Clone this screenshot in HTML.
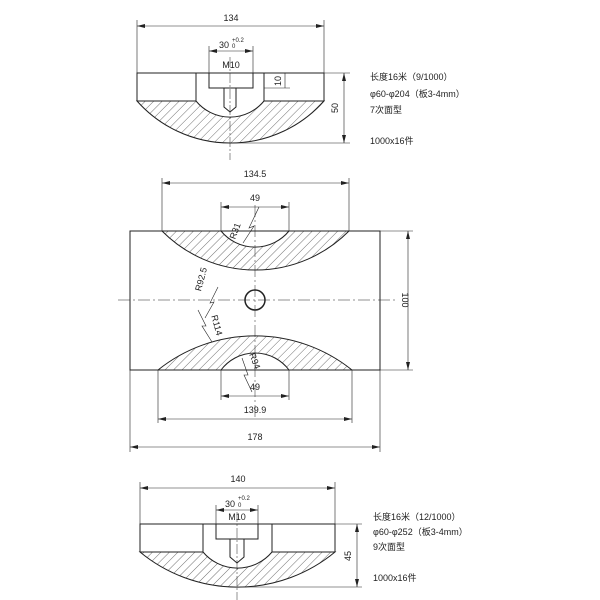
<!DOCTYPE html>
<html><head><meta charset="utf-8"><style>
html,body{margin:0;padding:0;background:#fff;}
svg{display:block;}
text{font-family:"Liberation Sans","Noto Sans CJK SC",sans-serif;fill:#222;}
.t{font-size:9px;}
</style></head><body>
<svg width="600" height="600" viewBox="0 0 600 600" xmlns="http://www.w3.org/2000/svg">
<defs>
<pattern id="h" width="6" height="6" patternUnits="userSpaceOnUse" patternTransform="rotate(45)">
<line x1="0" y1="0" x2="0" y2="6" stroke="#333" stroke-width="0.7"/>
</pattern>
<marker id="a" markerWidth="8" markerHeight="6" refX="8" refY="3" orient="auto-start-reverse" markerUnits="userSpaceOnUse">
<path d="M0,1 L8,3 L0,5 Z" fill="#222"/></marker>
</defs>
<g stroke="#222" fill="none" stroke-width="1">
<!-- TOP VIEW -->
<path d="M137,101 A125,125 0 0 0 324,101 L264,101 A44,44 0 0 1 196,101 Z" fill="url(#h)"/>
<path d="M137,101 L137,73 L324,73 L324,101"/>
<path d="M196,73 L196,101 M264,73 L264,101"/>
<path d="M209,73 L209,88 L253,88 L253,73"/>
<path d="M224,88 L224,107 L230,112 L236,107 L236,88"/>
<line x1="137" y1="20" x2="137" y2="73" stroke-width="0.6"/>
<line x1="324" y1="20" x2="324" y2="73" stroke-width="0.6"/>
<line x1="137" y1="26" x2="324" y2="26" stroke-width="0.6" marker-start="url(#a)" marker-end="url(#a)"/>
<line x1="209" y1="46" x2="209" y2="73" stroke-width="0.6"/>
<line x1="253" y1="46" x2="253" y2="73" stroke-width="0.6"/>
<line x1="209" y1="51" x2="253" y2="51" stroke-width="0.6" marker-start="url(#a)" marker-end="url(#a)"/>
<line x1="230" y1="57" x2="230" y2="160" stroke-width="0.5" stroke-dasharray="10,2,2,2"/>
<line x1="264" y1="88" x2="290" y2="88" stroke-width="0.6"/>
<line x1="285" y1="73" x2="285" y2="88" stroke-width="0.6"/>
<line x1="324" y1="73" x2="350" y2="73" stroke-width="0.6"/>
<line x1="232" y1="143" x2="350" y2="143" stroke-width="0.6"/>
<line x1="344" y1="73" x2="344" y2="143" stroke-width="0.6" marker-start="url(#a)" marker-end="url(#a)"/>

<!-- MIDDLE VIEW -->
<rect x="130" y="231" width="250" height="139"/>
<path d="M162,231 A131.6,131.6 0 0 0 349,231 L289,231 A44,44 0 0 1 221,231 Z" fill="url(#h)"/>
<path d="M158,370 A155,155 0 0 1 352,370 L289,370 A42.5,42.5 0 0 0 221,370 Z" fill="url(#h)"/>
<circle cx="255" cy="300" r="10" stroke-width="1.5"/>
<line x1="118" y1="300" x2="395" y2="300" stroke-width="0.5" stroke-dasharray="12,3,2,3"/>
<line x1="255" y1="205" x2="255" y2="420" stroke-width="0.5" stroke-dasharray="12,3,2,3"/>
<line x1="162" y1="178" x2="162" y2="231" stroke-width="0.6"/>
<line x1="349" y1="178" x2="349" y2="231" stroke-width="0.6"/>
<line x1="162" y1="183" x2="349" y2="183" stroke-width="0.6" marker-start="url(#a)" marker-end="url(#a)"/>
<line x1="221" y1="202" x2="221" y2="231" stroke-width="0.6"/>
<line x1="289" y1="202" x2="289" y2="231" stroke-width="0.6"/>
<line x1="221" y1="207" x2="289" y2="207" stroke-width="0.6" marker-start="url(#a)" marker-end="url(#a)"/>
<line x1="221" y1="370" x2="221" y2="400" stroke-width="0.6"/>
<line x1="289" y1="370" x2="289" y2="400" stroke-width="0.6"/>
<line x1="221" y1="396" x2="289" y2="396" stroke-width="0.6" marker-start="url(#a)" marker-end="url(#a)"/>
<line x1="158" y1="370" x2="158" y2="423" stroke-width="0.6"/>
<line x1="352" y1="370" x2="352" y2="423" stroke-width="0.6"/>
<line x1="158" y1="419" x2="352" y2="419" stroke-width="0.6" marker-start="url(#a)" marker-end="url(#a)"/>
<line x1="130" y1="370" x2="130" y2="452" stroke-width="0.6"/>
<line x1="380" y1="370" x2="380" y2="452" stroke-width="0.6"/>
<line x1="130" y1="447" x2="380" y2="447" stroke-width="0.6" marker-start="url(#a)" marker-end="url(#a)"/>
<line x1="380" y1="231" x2="413" y2="231" stroke-width="0.6"/>
<line x1="380" y1="370" x2="413" y2="370" stroke-width="0.6"/>
<line x1="408" y1="231" x2="408" y2="370" stroke-width="0.6" marker-start="url(#a)" marker-end="url(#a)"/>
<!-- leaders -->
<path d="M259,207 L249,228 L254,226 L243,243" stroke-width="0.6"/>
<path d="M218,287 L210,303 L214,302 L205,318" stroke-width="0.6"/>
<path d="M198,310 L206,326 L202,326 L212,342" stroke-width="0.6"/>
<path d="M242,358 L248,375 L244,375 L252,392" stroke-width="0.6"/>

<!-- BOTTOM VIEW -->
<path d="M140,552 A153,153 0 0 0 335,552 L272,552 A45,45 0 0 1 203,552 Z" fill="url(#h)"/>
<path d="M140,552 L140,524 L335,524 L335,552"/>
<path d="M203,524 L203,552 M272,524 L272,552"/>
<path d="M216,524 L216,539 L258,539 L258,524"/>
<path d="M230,539 L230,557 L237,563 L244,557 L244,539"/>
<line x1="140" y1="482" x2="140" y2="524" stroke-width="0.6"/>
<line x1="335" y1="482" x2="335" y2="524" stroke-width="0.6"/>
<line x1="140" y1="488" x2="335" y2="488" stroke-width="0.6" marker-start="url(#a)" marker-end="url(#a)"/>
<line x1="216" y1="505" x2="216" y2="524" stroke-width="0.6"/>
<line x1="258" y1="505" x2="258" y2="524" stroke-width="0.6"/>
<line x1="216" y1="510" x2="258" y2="510" stroke-width="0.6" marker-start="url(#a)" marker-end="url(#a)"/>
<line x1="237" y1="512" x2="237" y2="600" stroke-width="0.5" stroke-dasharray="10,2,2,2"/>
<line x1="335" y1="524" x2="362" y2="524" stroke-width="0.6"/>
<line x1="240" y1="587" x2="362" y2="587" stroke-width="0.6"/>
<line x1="357" y1="524" x2="357" y2="587" stroke-width="0.6" marker-start="url(#a)" marker-end="url(#a)"/>
</g>

<!-- TEXT -->
<g class="t">
<text x="231" y="21" text-anchor="middle">134</text>
<text x="219" y="48">30</text><text x="232" y="42" font-size="6">+0.2</text><text x="232" y="48" font-size="6">0</text>
<text x="231" y="68" text-anchor="middle">M10</text>
<text transform="translate(281,81) rotate(-90)" text-anchor="middle">10</text>
<text transform="translate(338,108) rotate(-90)" text-anchor="middle">50</text>
<text x="370" y="80">长度16米（9/1000）</text>
<text x="370" y="97">φ60-φ204（板3-4mm）</text>
<text x="370" y="113">7次面型</text>
<text x="370" y="144">1000x16件</text>

<text x="255" y="177" text-anchor="middle">134.5</text>
<text x="255" y="201" text-anchor="middle">49</text>
<text transform="translate(238,232) rotate(-70)" text-anchor="middle">R31</text>
<text transform="translate(204,280) rotate(-75)" text-anchor="middle">R92.5</text>
<text transform="translate(214,326) rotate(75)" text-anchor="middle">R114</text>
<text transform="translate(252,362) rotate(70)" text-anchor="middle">R94</text>
<text x="255" y="390" text-anchor="middle">49</text>
<text x="255" y="413" text-anchor="middle">139.9</text>
<text x="255" y="440" text-anchor="middle">178</text>
<text transform="translate(402,300) rotate(90)" text-anchor="middle">100</text>

<text x="238" y="482" text-anchor="middle">140</text>
<text x="225" y="507">30</text><text x="238" y="500" font-size="6">+0.2</text><text x="238" y="507" font-size="6">0</text>
<text x="237" y="520" text-anchor="middle">M10</text>
<text transform="translate(351,556) rotate(-90)" text-anchor="middle">45</text>
<text x="373" y="520">长度16米（12/1000）</text>
<text x="373" y="535">φ60-φ252（板3-4mm）</text>
<text x="373" y="550">9次面型</text>
<text x="373" y="581">1000x16件</text>
</g>
</svg>
</body></html>
